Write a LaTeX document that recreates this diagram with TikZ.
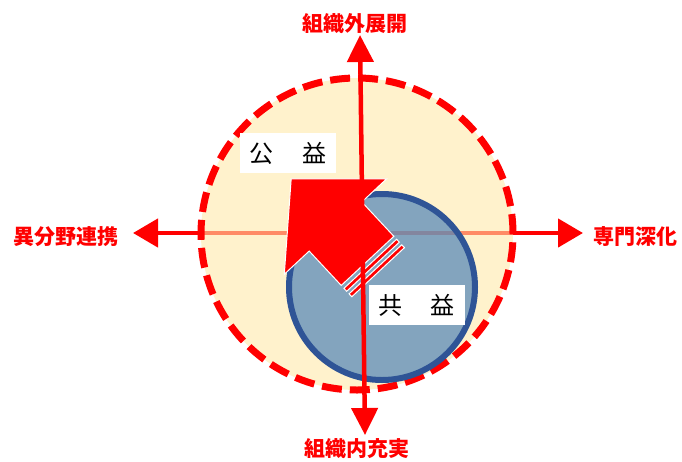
\documentclass[tikz,border=0pt]{standalone}
\usepackage{fontspec}
\newfontfamily\cjk{Noto Sans CJK JP}
\usetikzlibrary{arrows.meta}
\definecolor{red1}{RGB}{255,0,0}
\definecolor{beige}{RGB}{255,233,170}
\definecolor{bluefill}{RGB}{79,132,184}
\definecolor{blueedge}{RGB}{47,84,150}
\begin{document}
\begin{tikzpicture}[x=1pt,y=-1pt,
  axis/.style={draw=red1, line width=4.5pt},
  htips/.style={{Triangle[length=25pt,width=28pt]}-{Triangle[length=25pt,width=28pt]}},
  vtips/.style={{Triangle[length=27pt,width=26pt]}-{Triangle[length=27pt,width=26pt]}},
  axlabel/.style={text=red1, font=\cjk\bfseries\fontsize{21}{21}\selectfont, inner sep=0pt},
  labelbox/.style={fill=white, minimum width=96pt, minimum height=40pt, inner sep=0pt, font=\cjk\fontsize{24}{24}\selectfont},
  blockarrow/.style={fill=red1, draw=white, line width=1pt},
]
\useasboundingbox (0,0) rectangle (682,461);
% axis end points
\coordinate (L) at (133,233);
\coordinate (R) at (583,233);
\coordinate (T) at (360,35);
\coordinate (D) at (365,435);
\coordinate (O) at (357,234);
\coordinate (C) at (382,287);
% horizontal axis (under the translucent fills)
\draw[axis, htips] (L) -- (R);
% big circle
\fill[beige, fill opacity=0.6] (O) circle[radius=156pt];
% blue circle fill
\fill[bluefill, fill opacity=0.7] (C) circle[radius=93pt];
% dashed border
\draw[red1, line width=7pt, dash pattern=on 20pt off 8pt] (O) circle[radius=156pt];
% blue border
\draw[blueedge, line width=6pt] (C) circle[radius=93pt];
% striped block arrow
\begin{scope}[shift={(335.5,226.5)}, rotate=133]
  \path[blockarrow] (65,0) -- (0,70) -- (0,36) -- (-47,36) -- (-47,-36) -- (0,-36) -- (0,-70) -- cycle;
  \path[blockarrow] (-51,36) rectangle (-55,-36);
  \path[blockarrow] (-58.5,36) rectangle (-62.5,-36);
\end{scope}
% vertical axis
\draw[axis, vtips] (T) -- (D);
% labels
\node[axlabel] (top) at (355,24) {組織外展開};
\node[axlabel] (bottom) at (357,449) {組織内充実};
\node[axlabel] (left) at (66,237) {異分野連携};
\node[axlabel] (right) at (635,237) {専門深化};
\node[labelbox] (koeki) at (288,153) {公\hspace{29pt}益};
\node[labelbox] (kyoeki) at (416.5,305) {共\hspace{29pt}益};
\end{tikzpicture}
\end{document}
